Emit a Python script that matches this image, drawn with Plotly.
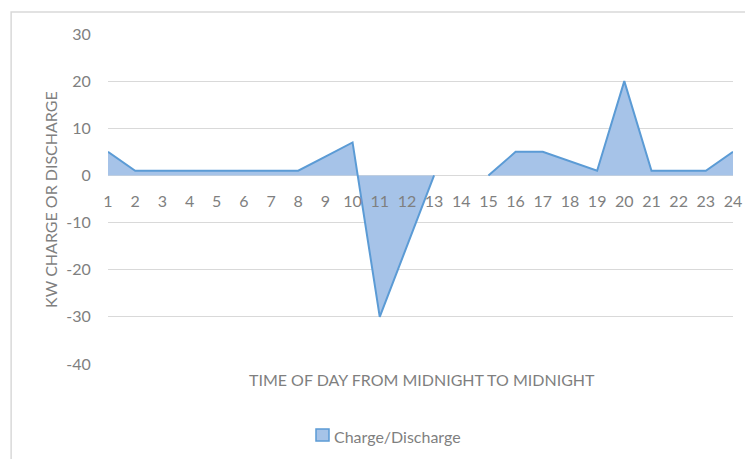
import plotly.graph_objects as go

# hour of day vs kW charge (+) / discharge (-); hour 14 left blank
hours = list(range(1, 25))
kw = [5, 1, 1, 1, 1, 1, 1, 1, 4, 7, -30, -15, 0, None, 0, 5, 5, 3, 1, 20, 1, 1, 1, 5]
y_ticks = [30, 20, 10, 0, -10, -20, -30, -40]
series_name = 'Charge/Discharge'

grey = '#7F7F7F'
grid = '#D9D9D9'
blue = '#5B9BD5'
fill = '#A6C3E8'
font = 'Lato, Open Sans, sans-serif'

fig = go.Figure()
fig.add_trace(go.Scatter(
    x=hours, y=kw, mode='lines', fill='tozeroy', connectgaps=False,
    name=series_name, showlegend=False,
    line=dict(color=blue, width=2),
    fillcolor=fill,
))

# zero sits at (0 - -40) / 70 of the plot height
zero_pos = (0 - min(y_ticks)) / (max(y_ticks) - min(y_ticks))

fig.update_xaxes(
    range=[1, 24], tickvals=hours, ticktext=[str(h) for h in hours],
    showgrid=False, zeroline=False, showline=False,
    anchor='free', position=zero_pos,
    ticks='outside', ticklen=11, tickcolor='rgba(0,0,0,0)',
    tickfont=dict(family=font, size=16, color=grey),
)
fig.update_yaxes(
    range=[-40, 30], tickvals=y_ticks, ticktext=[str(v) for v in y_ticks],
    showgrid=True, gridcolor=grid, gridwidth=1.3,
    zeroline=False, showline=False,
    ticks='outside', ticklen=13, tickcolor='rgba(0,0,0,0)',
    tickfont=dict(family=font, size=16, color=grey),
)

fig.add_annotation(
    text='TIME OF DAY FROM MIDNIGHT TO MIDNIGHT', xref='paper', yref='paper',
    x=0.502, y=-0.048, xanchor='center', yanchor='middle', showarrow=False,
    font=dict(family=font, size=16, color=grey),
)
fig.add_annotation(
    text='KW CHARGE OR DISCHARGE', xref='paper', yref='paper',
    x=-0.093, y=0.5, xanchor='center', yanchor='middle',
    textangle=-90, showarrow=False,
    font=dict(family=font, size=16, color=grey),
)

# legend drawn by hand: Excel-style square swatch then the name
fig.add_shape(
    type='rect', xref='paper', yref='paper',
    x0=0.3328, x1=0.3536, y0=-0.233, y1=-0.197,
    fillcolor=fill, line=dict(color=blue, width=1.5),
)
fig.add_annotation(
    text=series_name, xref='paper', yref='paper',
    x=0.3584, y=-0.2212, xanchor='left', yanchor='middle', showarrow=False,
    font=dict(family=font, size=16, color=grey),
)

# chart frame
fig.add_shape(
    type='rect', xref='paper', yref='paper',
    x0=-0.155, y0=-0.5, x1=1.2, y1=1.0667,
    line=dict(color=grid, width=1.5), layer='below',
)

# page body adds 8px, so the figure is 8px smaller each way
fig.update_layout(
    width=745, height=451,
    margin=dict(l=100, r=20, t=26, b=95),
    plot_bgcolor='white', paper_bgcolor='white',
    showlegend=False,
)

fig.write_html("out.html")
